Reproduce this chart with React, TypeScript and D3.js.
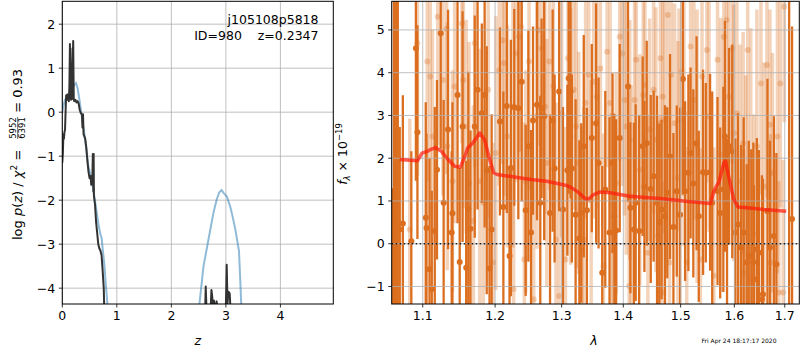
import React from "react";
import * as d3 from "d3";

// ---------- data ----------
const zTicks = [0, 1, 2, 3, 4];
const logpTicks = [-4, -3, -2, -1, 0, 1, 2];
const lamTicks = [1.1, 1.2, 1.3, 1.4, 1.5, 1.6, 1.7];
const fluxTicks = [-1, 0, 1, 2, 3, 4, 5];

// log p(z) from chi2 (dark line)
const chiZ = [
  0.0, 0.01, 0.02, 0.03, 0.04, 0.05, 0.06, 0.07, 0.08, 0.09, 0.1, 0.11, 0.12, 0.13, 0.14, 0.145, 0.15,
  0.16, 0.17, 0.18, 0.19, 0.2, 0.21, 0.22, 0.24, 0.26, 0.28, 0.3, 0.32, 0.34, 0.36, 0.37, 0.38, 0.39,
  0.42, 0.44, 0.46, 0.48, 0.5, 0.52, 0.53, 0.55, 0.56, 0.57, 0.575, 0.58, 0.6, 0.62, 0.64, 0.66, 0.68,
  0.7, 0.72, 0.74, 0.76, 0.77, 0.8, 1.5, 2.6, 2.62, 2.63, 2.645, 2.66, 2.72, 2.735, 2.75, 2.76, 2.78,
  2.8, 2.83, 2.85, 2.98, 3.0, 3.015, 3.03, 3.045, 3.07, 3.09, 3.15, 4.0,
];
const chiLogP = [
  -1.15, -0.95, -0.5, -0.6, -0.45, -0.4, 0.0, 0.38, 0.3, 0.4, 0.28, 0.35, 0.25, 0.6, 1.55, 0.3, 1.45,
  0.28, 0.95, 0.3, 1.1, 1.62, 0.3, 0.25, 0.28, 0.22, 0.25, 0.2, 0.05, -0.02, -0.05, -0.35, -0.05, -0.5,
  -0.6, -0.8, -1.1, -1.35, -1.5, -1.45, -1.65, -1.6, -0.95, -1.8, -0.95, -1.9, -2.1, -2.5, -2.75, -3.0,
  -3.1, -3.15, -3.25, -3.6, -4.0, -4.5, -6, -9, -4.8, -4.5, -3.96, -4.5, -4.6, -4.5, -4.04, -4.2, -4.5,
  -4.28, -4.5, -4.3, -4.5, -4.6, -4.4, -3.47, -4.35, -4.08, -4.12, -4.6, -5, -9,
];

// prior-weighted p(z) (blue line)
const pzZ = [
  0, 0.02, 0.05, 0.1, 0.14, 0.18, 0.22, 0.25, 0.28, 0.31, 0.34, 0.37, 0.4, 0.43, 0.46, 0.48, 0.5, 0.52,
  0.55, 0.58, 0.61, 0.64, 0.67, 0.7, 0.72, 0.74, 0.77, 0.8, 0.83, 0.88, 1.5, 2.45, 2.52, 2.59, 2.68,
  2.77, 2.83, 2.88, 2.92, 2.96, 3.02, 3.08, 3.11, 3.17, 3.24, 3.27, 3.3, 4.0,
];
const pzLogP = [
  0.0, 0.15, 0.28, 0.38, 0.45, 0.52, 0.62, 0.66, 0.55, 0.32, 0.05, -0.2, -0.45, -0.75, -1.05, -1.25,
  -1.33, -1.45, -1.62, -1.85, -2.1, -2.35, -2.6, -2.78, -2.85, -3.1, -3.45, -3.95, -4.4, -5.2, -9, -5.2,
  -4.3, -3.5, -2.9, -2.3, -1.99, -1.82, -1.77, -1.84, -1.92, -2.15, -2.3, -2.64, -3.15, -4.0, -5.0, -9,
];

// spectrum, primary grism (dark)
const darkWave = [
  1.0605, 1.0625, 1.065, 1.0675,
  1.070, 1.074, 1.085, 1.091, 1.093, 1.104, 1.105, 1.109, 1.112, 1.116,
  1.119, 1.124, 1.128, 1.134, 1.139, 1.140, 1.147, 1.150, 1.154, 1.159,
  1.162, 1.165, 1.171, 1.175, 1.181, 1.185, 1.188, 1.192, 1.195, 1.207,
  1.212, 1.217, 1.221, 1.223, 1.228, 1.234, 1.239, 1.245, 1.249, 1.253,
  1.256, 1.262, 1.267, 1.269, 1.273, 1.282, 1.286, 1.289, 1.296, 1.302,
  1.309, 1.311, 1.314, 1.316, 1.322, 1.328, 1.331, 1.335, 1.340, 1.348,
  1.355, 1.359, 1.365, 1.370, 1.377, 1.382, 1.385, 1.388, 1.394, 1.408,
  1.412, 1.418, 1.421, 1.427, 1.433, 1.436, 1.440, 1.447, 1.452, 1.458,
  1.462, 1.466, 1.472, 1.476, 1.481, 1.487, 1.493, 1.499, 1.504, 1.508,
  1.514, 1.518, 1.523, 1.529, 1.533, 1.541, 1.546, 1.554, 1.558, 1.568,
  1.573, 1.579, 1.582, 1.586, 1.590, 1.596, 1.602, 1.607, 1.613, 1.618,
  1.624, 1.628, 1.633, 1.637, 1.638, 1.644, 1.648, 1.654, 1.656, 1.665,
  1.670, 1.678, 1.683, 1.709, 1.715,
];
const darkFlux = [
  -2.0, 7.0, -2.5, 6.5,
  0.33, 0.47, 0.06, 4.57, 2.61, 0.61, 0.37, -0.60, -1.06, 0.30,
  1.73, 4.92, 0.96, 2.67, 0.26, 0.71, 3.48, -0.43, 2.74, -0.56,
  0.82, 0.35, 2.74, 3.60, 3.05, 3.48, 1.72, -0.58, 0.33, 2.86,
  0.86, 3.22, -0.29, 1.77, 3.19, 3.17, 3.79, 0.78, 2.28, 0.26,
  2.88, 3.25, 0.96, 3.17, 2.98, 0.72, 2.88, 1.76, 3.56, 0.80,
  1.72, 3.87, 3.56, 1.76, 0.68, 0.12, 0.72, 2.28, 0.78, 2.47,
  2.82, 1.89, -0.68, 1.27, 0.26, 1.89, 0.64, 0.31, 2.47, 3.68,
  0.84, 0.33, 0.96, 0.30, 2.28, 1.34, 2.35, 1.28, 1.58, 0.96,
  0.51, 0.80, 0.64, 1.19, 2.04, 0.39, 1.23, 0.68, 3.85, 1.23,
  1.66, 2.12, 1.41, 2.35, 0.64, 1.67, 1.66, 1.67, 0.96, 1.23,
  0.72, 1.27, 2.51, 0.35, 2.28, 2.16, 0.26, 0.45, -0.09, 0.26,
  -0.44, -0.29, -0.29, -0.43, -0.83, -0.13, -0.21, -1.30, -1.18, 0.76,
  -0.09, 0.18, -0.48, 6.5, 0.58,
];
const darkErr = [
  3.3, 9.0, 9.0, 8.0,
  2.4, 3.0, 2.1, 3.1, 2.5, 2.7, 2.2, 2.6, 2.3, 2.9,
  2.1, 2.7, 2.4, 2.8, 1.9, 2.6, 3.0, 2.2, 2.7, 2.5,
  3.2, 2.3, 2.6, 2.8, 2.1, 3.1, 2.9, 2.4, 2.7, 2.2,
  2.7, 2.5, 2.1, 3.0, 2.3, 2.6, 2.8, 2.0, 2.7, 2.4,
  2.2, 2.7, 2.5, 2.1, 2.9, 2.3, 2.6, 2.2, 2.8, 2.4,
  2.0, 2.7, 2.5, 2.2, 2.7, 2.3, 2.1, 2.6, 2.4, 2.2,
  2.8, 2.0, 2.5, 2.3, 2.7, 2.1, 2.4, 2.6, 2.2, 2.7,
  2.0, 2.5, 2.3, 2.7, 2.1, 2.0, 2.4, 2.2, 2.0, 2.5,
  2.3, 2.1, 2.6, 2.0, 2.4, 2.2, 2.0, 2.5, 2.7, 2.1,
  2.3, 2.0, 2.2, 2.5, 2.0, 2.4, 2.1, 2.3, 2.6, 2.2,
  2.0, 2.4, 2.7, 2.1, 2.3, 2.5, 2.2, 2.6, 2.4, 2.7,
  2.3, 2.7, 2.5, 2.8, 2.2, 2.6, 2.4, 2.9, 2.7, 3.1,
  2.5, 2.8, 2.6, 9.0, 4.5,
];

// spectrum, secondary grism (light)
const lightWave = [
  1.083, 1.093, 1.106, 1.110, 1.113, 1.120, 1.127, 1.132, 1.133, 1.140,
  1.143, 1.153, 1.155, 1.159, 1.163, 1.169, 1.171, 1.178, 1.183, 1.190,
  1.197, 1.201, 1.206, 1.211, 1.213, 1.218, 1.226, 1.227, 1.230, 1.235,
  1.238, 1.243, 1.245, 1.250, 1.257, 1.262, 1.264, 1.269, 1.274, 1.277,
  1.281, 1.287, 1.291, 1.296, 1.300, 1.306, 1.310, 1.314, 1.319, 1.323,
  1.327, 1.332, 1.335, 1.338, 1.343, 1.347, 1.351, 1.356, 1.362, 1.367,
  1.373, 1.378, 1.380, 1.383, 1.388, 1.394, 1.398, 1.402, 1.405, 1.411,
  1.410, 1.413, 1.419, 1.422, 1.428, 1.434, 1.437, 1.442, 1.445, 1.452,
  1.456, 1.460, 1.463, 1.464, 1.468, 1.469, 1.471, 1.477, 1.480, 1.483,
  1.489, 1.495, 1.497, 1.502, 1.506, 1.511, 1.518, 1.524, 1.530, 1.536,
  1.539, 1.548, 1.552, 1.561, 1.568, 1.574, 1.580, 1.585, 1.589, 1.596,
  1.599, 1.605, 1.611, 1.617, 1.618, 1.622, 1.626, 1.632, 1.638, 1.644,
  1.652, 1.658, 1.664, 1.670, 1.671, 1.675, 1.685, 1.688, 1.691, 1.697,
  1.699,
];
const lightFlux = [
  0.33, 4.69, 4.26, 3.91, 2.51, 5.31, 3.83, 5.03, 2.28, 1.46,
  3.68, 5.15, 3.83, 2.74, 1.42, 0.53, 4.69, 1.46, 0.96, 3.60,
  -0.44, 2.12, 4.06, 4.76, 4.22, 2.51, 3.21, -1.06, 4.45, 4.84,
  5.07, -0.37, 1.46, 4.26, -1.30, 2.98, 5.00, 4.57, 3.21, 1.89,
  4.26, 3.68, 0.10, -1.22, 3.05, -0.37, 4.34, 2.51, 3.60, 2.74,
  1.89, -0.17, 0.10, 3.29, 3.95, 1.03, 3.79, 3.44, 4.10, -0.52,
  4.49, 3.29, 0.26, -0.17, 1.42, 4.84, 4.45, 3.36, 2.74, 2.43,
  -0.99, 1.11, 3.36, 4.30, 1.73, 3.48, 3.71, -0.21, 2.67, 3.60,
  2.43, 0.18, -0.02, 4.34, 3.44, -1.14, 2.90, 5.35, -0.44, 3.95,
  2.82, 1.54, 2.90, 4.02, 3.05, -0.44, 4.61, 3.36, 2.28, -0.37,
  3.91, 4.53, 2.98, -0.75, 4.30, 2.08, 4.84, 5.23, 3.44, 4.57,
  2.59, 3.05, 1.46, 2.35, -0.68, 0.84, 4.53, 2.04, 0.22, 2.28,
  3.75, 1.34, 4.18, 2.78, -0.44, 1.66, 2.51, -1.14, 3.75, -1.14,
  5.54,
];
const lightErr = [
  2.6, 3.1, 2.8, 3.3, 2.5, 3.0, 2.7, 3.4, 2.9, 2.6,
  3.2, 2.8, 3.0, 2.5, 3.3, 2.7, 2.9, 3.1, 2.6, 3.0,
  2.8, 3.2, 2.7, 2.9, 3.1, 2.6, 3.3, 2.8, 3.0, 2.7,
  2.9, 3.2, 2.6, 3.0, 2.8, 3.1, 2.7, 3.3, 2.5, 2.9,
  3.0, 2.8, 3.2, 2.6, 2.9, 3.1, 2.7, 3.0, 2.8, 3.3,
  2.6, 2.9, 3.1, 2.7, 3.0, 2.8, 3.2, 2.6, 2.9, 3.1,
  2.7, 3.0, 2.8, 3.2, 2.6, 2.9, 3.1, 2.7, 3.0, 2.8,
  3.2, 2.6, 2.9, 3.1, 2.7, 3.0, 2.8, 3.2, 2.6, 2.9,
  3.1, 2.7, 3.0, 2.8, 3.2, 2.6, 2.9, 3.1, 2.7, 3.0,
  2.8, 3.2, 2.6, 2.9, 3.1, 2.7, 3.0, 2.8, 3.2, 2.6,
  2.9, 3.1, 2.7, 3.0, 2.8, 3.2, 2.6, 2.9, 3.1, 2.7,
  3.0, 2.8, 3.2, 2.6, 2.9, 3.1, 2.7, 3.0, 2.8, 3.2,
  2.6, 2.9, 3.1, 2.7, 3.0, 2.8, 3.2, 2.6, 2.9, 3.1,
  2.7,
];

// best-fit model (red)
const modelWave = [
  1.070, 1.093, 1.099, 1.106, 1.110, 1.117, 1.125, 1.134, 1.143, 1.151, 1.157, 1.161, 1.168, 1.178,
  1.185, 1.191, 1.198, 1.203, 1.253, 1.277, 1.308, 1.314, 1.324, 1.338, 1.343, 1.351, 1.362, 1.378,
  1.411, 1.468, 1.518, 1.555, 1.561, 1.571, 1.580, 1.583, 1.589, 1.599, 1.607, 1.625, 1.658, 1.703,
];
const modelFlux = [
  1.97, 1.94, 2.12, 2.16, 2.20, 2.25, 2.16, 1.97, 1.81, 1.79, 2.04, 2.24, 2.35, 2.59,
  2.43, 2.04, 1.66, 1.62, 1.50, 1.46, 1.36, 1.32, 1.23, 1.05, 1.05, 1.15, 1.21, 1.19,
  1.11, 1.05, 0.98, 0.94, 1.23, 1.46, 1.89, 1.93, 1.58, 1.03, 0.86, 0.84, 0.80, 0.76,
];

// ---------- layout ----------
const W = 800;
const H = 350;
const LA = { x0: 62.3, x1: 333.3, y0: 1.3, y1: 304 };
const RA = { x0: 391.7, x1: 799.3, y0: 1.3, y1: 304 };
const FONT = "'DejaVu Sans', sans-serif";
const FS = 12.5;
const GRID = "#b0b0b0";
const DARK = "#dc6e1f";
const fmt = (v: number) => (v < 0 ? "\u2212" + Math.abs(v) : String(v));

export default function App() {
  const zx = d3.scaleLinear().domain([0, 4.97]).range([LA.x0, LA.x1]);
  const py = d3.scaleLinear().domain([-4.36, 2.52]).range([LA.y1, LA.y0]);
  const lx = d3.scaleLog().domain([1.0597, 1.73]).range([RA.x0, RA.x1]);
  const fy = d3.scaleLinear().domain([-1.41, 5.67]).range([RA.y1, RA.y0]);

  const chiLine = d3.line<number>().x((_, i) => zx(chiZ[i])).y((d) => py(d))(chiLogP) || "";
  const pzLine = d3.line<number>().x((_, i) => zx(pzZ[i])).y((d) => py(d))(pzLogP) || "";
  const modelLine =
    d3.line<number>().x((_, i) => lx(modelWave[i])).y((d) => fy(d)).curve(d3.curveLinear)(modelFlux) || "";

  return (
    <svg
      width={W}
      height={H}
      style={{ position: "fixed", left: 0, top: 0, background: "#fff" }}
      fontFamily={FONT}
    >
      <defs>
        <clipPath id="clipL">
          <rect x={LA.x0} y={LA.y0} width={LA.x1 - LA.x0} height={LA.y1 - LA.y0} />
        </clipPath>
        <clipPath id="clipR">
          <rect x={RA.x0} y={RA.y0} width={RA.x1 - RA.x0} height={RA.y1 - RA.y0} />
        </clipPath>
      </defs>
      <rect x={0} y={0} width={W} height={H} fill="#fff" />

      {/* ---------- left panel ---------- */}
      <g>
        {zTicks.map((t) => (
          <line key={"gz" + t} x1={zx(t)} x2={zx(t)} y1={LA.y0} y2={LA.y1} stroke={GRID} strokeWidth={0.8} />
        ))}
        {logpTicks.map((t) => (
          <line key={"gp" + t} x1={LA.x0} x2={LA.x1} y1={py(t)} y2={py(t)} stroke={GRID} strokeWidth={0.8} />
        ))}
        <g clipPath="url(#clipL)">
          <path d={pzLine} fill="none" stroke="#1f77b4" strokeOpacity={0.5} strokeWidth={2} />
          <path d={chiLine} fill="none" stroke="#333333" strokeWidth={2} strokeLinejoin="round" />
        </g>
        <rect x={LA.x0} y={LA.y0} width={LA.x1 - LA.x0} height={LA.y1 - LA.y0} fill="none" stroke="#000" strokeWidth={1} />
        {zTicks.map((t) => (
          <g key={"tz" + t}>
            <line x1={zx(t)} x2={zx(t)} y1={LA.y1} y2={LA.y1 + 3.5} stroke="#000" strokeWidth={0.8} />
            <text x={zx(t)} y={LA.y1 + 16} fontSize={FS} textAnchor="middle">
              {fmt(t)}
            </text>
          </g>
        ))}
        {logpTicks.map((t) => (
          <g key={"tp" + t}>
            <line x1={LA.x0 - 3.5} x2={LA.x0} y1={py(t)} y2={py(t)} stroke="#000" strokeWidth={0.8} />
            <text x={LA.x0 - 7} y={py(t) + 4.5} fontSize={FS} textAnchor="end">
              {fmt(t)}
            </text>
          </g>
        ))}
        <text x={(LA.x0 + LA.x1) / 2} y={345} fontSize={FS} textAnchor="middle" fontStyle="italic">
          z
        </text>
        <text x={318.5} y={24} fontSize={FS} textAnchor="end">
          j105108p5818
        </text>
        <text x={318.5} y={39.5} fontSize={FS} textAnchor="end" xmlSpace="preserve">
          {"ID=980    z=0.2347"}
        </text>
        <g transform="translate(21.5,240) rotate(-90)" fontSize={13}>
          <text x={0} y={0} xmlSpace="preserve">
            {"log "}
            <tspan fontStyle="italic">p</tspan>
            {"("}
            <tspan fontStyle="italic">z</tspan>
            {") / "}
            <tspan fontStyle="italic">χ</tspan>
            <tspan fontSize={9} dy={-5}>
              2
            </tspan>
            <tspan dy={5}>{" = "}</tspan>
          </text>
          <text x={112} y={-5.5} fontSize={8.5} textAnchor="middle">
            5952
          </text>
          <line x1={101} x2={123} y1={-3.8} y2={-3.8} stroke="#000" strokeWidth={0.6} />
          <text x={112} y={3.5} fontSize={8.5} textAnchor="middle">
            6391
          </text>
          <text x={123} y={0} xmlSpace="preserve">
            {" = 0.93"}
          </text>
        </g>
      </g>

      {/* ---------- right panel ---------- */}
      <g>
        <g clipPath="url(#clipR)">
          {lightWave.map((w, i) => (
            <line
              key={"le" + i}
              x1={lx(w)}
              x2={lx(w)}
              y1={fy(lightFlux[i] - lightErr[i])}
              y2={fy(lightFlux[i] + lightErr[i])}
              stroke={DARK}
              strokeOpacity={0.3}
              strokeWidth={3.5}
            />
          ))}
          {lightWave.map((w, i) => (
            <circle key={"lp" + i} cx={lx(w)} cy={fy(lightFlux[i])} r={3} fill={DARK} fillOpacity={0.3} />
          ))}
          {darkWave.map((w, i) => (
            <line
              key={"de" + i}
              x1={lx(w)}
              x2={lx(w)}
              y1={fy(darkFlux[i] - darkErr[i])}
              y2={fy(darkFlux[i] + darkErr[i])}
              stroke={DARK}
              strokeWidth={2.3}
            />
          ))}
          {darkWave.map((w, i) => (
            <circle key={"dp" + i} cx={lx(w)} cy={fy(darkFlux[i])} r={3} fill={DARK} />
          ))}
          {lamTicks.map((t) => (
            <line key={"gl" + t} x1={lx(t)} x2={lx(t)} y1={RA.y0} y2={RA.y1} stroke={GRID} strokeWidth={0.8} />
          ))}
          {fluxTicks.map((t) => (
            <line key={"gf" + t} x1={RA.x0} x2={RA.x1} y1={fy(t)} y2={fy(t)} stroke={GRID} strokeWidth={0.8} />
          ))}
          <path d={modelLine} fill="none" stroke="#ff1a0a" strokeOpacity={0.7} strokeWidth={3.5} strokeLinejoin="round" />
          <line
            x1={RA.x0}
            x2={RA.x1}
            y1={fy(0)}
            y2={fy(0)}
            stroke="#000"
            strokeWidth={1.5}
            strokeDasharray="1.5,2.5"
            opacity={0.85}
          />
        </g>
        <rect x={RA.x0} y={RA.y0} width={RA.x1 - RA.x0} height={RA.y1 - RA.y0} fill="none" stroke="#000" strokeWidth={1} />
        {lamTicks.map((t) => (
          <g key={"tl" + t}>
            <line x1={lx(t)} x2={lx(t)} y1={RA.y1} y2={RA.y1 + 3.5} stroke="#000" strokeWidth={0.8} />
            <text x={lx(t)} y={RA.y1 + 16} fontSize={FS} textAnchor="middle">
              {t.toFixed(1)}
            </text>
          </g>
        ))}
        {fluxTicks.map((t) => (
          <g key={"tf" + t}>
            <line x1={RA.x0 - 3.5} x2={RA.x0} y1={fy(t)} y2={fy(t)} stroke="#000" strokeWidth={0.8} />
            <text x={RA.x0 - 7} y={fy(t) + 4.5} fontSize={FS} textAnchor="end">
              {fmt(t)}
            </text>
          </g>
        ))}
        <text x={594} y={345} fontSize={FS} textAnchor="middle" fontStyle="italic">
          λ
        </text>
        <g transform="translate(346.5,154) rotate(-90)">
          <text x={0} y={0} fontSize={12.5} textAnchor="middle">
            <tspan fontStyle="italic">f</tspan>
            <tspan fontSize={8.5} dy={3} fontStyle="italic">
              λ
            </tspan>
            <tspan dy={-3}>{" × 10"}</tspan>
            <tspan fontSize={8.5} dy={-5}>
              {"\u221219"}
            </tspan>
          </text>
        </g>
        <text x={701.5} y={343} fontSize={6} fill="#000">
          Fri Apr 24 18:17:17 2020
        </text>
      </g>
    </svg>
  );
}
